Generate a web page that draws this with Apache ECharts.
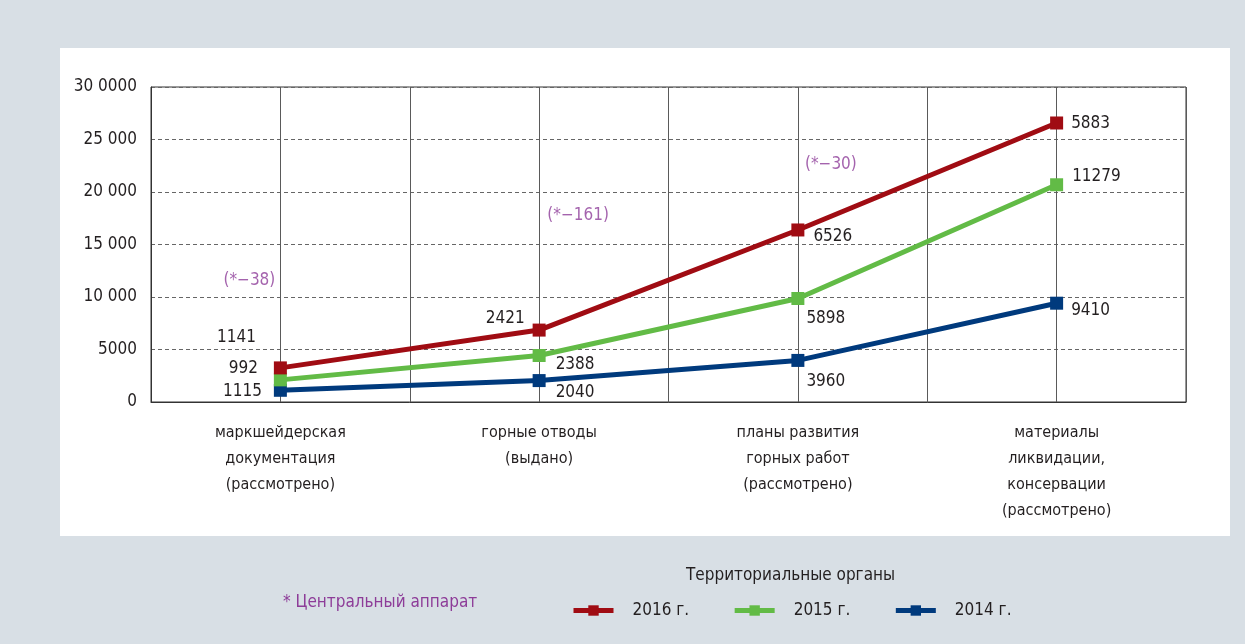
<!DOCTYPE html>
<html><head><meta charset="utf-8">
<script src="https://cdn.jsdelivr.net/npm/echarts@6/dist/echarts.min.js"></script>
<style>html,body{margin:0;padding:0;background:#d8dfe5}#c{width:1245px;height:644px}</style>
</head><body><div id="c"></div>
<script>
var categories = ['маркшейдерская\nдокументация\n(рассмотрено)', 'горные отводы\n(выдано)', 'планы развития\nгорных работ\n(рассмотрено)', 'материалы\nликвидации,\nконсервации\n(рассмотрено)'];
var years = ['2016 г.', '2015 г.', '2014 г.'];
var v2014 = [1115, 2040, 3960, 9410];
var v2015 = [992, 2388, 5898, 11279];
var v2016 = [1141, 2421, 6526, 5883];
var yTickLabels = ['0', '5000', '10 000', '15 000', '20 000', '25 000', '30 0000'];
var annotText = ['(*\u221238)', '(*\u2212161)', '(*\u221230)'];
var annotY = [11600, 17800, 22600];
var annotCat = [0, 1, 2];
var footnote = '* Центральный аппарат';
var legendTitle = 'Территориальные органы';

var FONT = "'Liberation Sans Narrow','DejaVu Sans Condensed','Roboto Condensed',sans-serif";
var TXT = '#231f20';
var colors = {'2016 г.': '#a00c13', '2015 г.': '#62bb46', '2014 г.': '#003a7d'};

// label layout (style only)
var lay2016 = [['left',18,[0,-30]],['left',8,[0,-12]],['right',9,[0,7]],['right',8,[0,1]]];
var lay2015 = [['left',16,[0,-11]],['right',10,[0,9]],['right',2,[0,20]],['right',9,[0,-8]]];
var lay2014 = [['left',12,[0,1]],['right',10,[0,12]],['right',2,[0,21]],['right',8,[0,7]]];
var annotOffX = [-31, 39, 33];

function mk(vals, lay) {
  return vals.map(function (v, i) {
    return {value: v, label: {show: true, position: lay[i][0], distance: lay[i][1], offset: lay[i][2],
      formatter: String(v), color: TXT, fontSize: 17, fontFamily: FONT}};
  });
}
function lineSeries(name, vals, lay) {
  return {name: name, type: 'line', stack: 'total', data: mk(vals, lay),
    symbol: 'rect', symbolSize: 13, lineStyle: {width: 5, color: colors[name]},
    itemStyle: {color: colors[name]}, z: 5, animation: false};
}

var chart = echarts.init(document.getElementById('c'));
chart.setOption({
  backgroundColor: '#d8dfe5',
  animation: false,
  textStyle: {fontFamily: FONT},
  graphic: [
    {type: 'rect', shape: {x: 60, y: 48, width: 1170, height: 488}, style: {fill: '#ffffff'}, z: -10},
    {type: 'text', left: 283, top: 594, style: {text: footnote, fill: '#8d3c98', font: '17px ' + FONT}},
    {type: 'text', left: 686, top: 567, style: {text: legendTitle, fill: TXT, font: '17px ' + FONT}}
  ],
  grid: {left: 151, right: 59, top: 87, bottom: 242, show: true, borderColor: '#333', borderWidth: 1, backgroundColor: 'transparent'},
  legend: {
    data: years, left: 566, top: 597, itemWidth: 40, itemHeight: 13, itemGap: 43,
    lineStyle: {width: 5},
    textStyle: {fontSize: 17, color: TXT, fontFamily: FONT, padding: [0, 0, 0, 14]}
  },
  xAxis: [
    {type: 'category', data: categories, boundaryGap: true,
      axisLine: {lineStyle: {color: '#333', width: 1}}, axisTick: {show: false},
      splitLine: {show: false},
      axisLabel: {color: TXT, fontSize: 16, lineHeight: 26, margin: 18, interval: 0, fontFamily: FONT}},
    {type: 'category', data: ['', '', '', '', '', '', '', ''], boundaryGap: true, position: 'bottom',
      axisLine: {show: false}, axisTick: {show: false}, axisLabel: {show: false},
      splitLine: {show: true, interval: 0, lineStyle: {color: '#5a5a5a', width: 1}}}
  ],
  yAxis: {type: 'value', min: 0, max: 30000, interval: 5000,
    axisLine: {show: true, lineStyle: {color: '#333'}}, axisTick: {show: false},
    axisLabel: {color: TXT, fontSize: 17, margin: 14, fontFamily: FONT,
      formatter: function (v) { return yTickLabels[Math.round(v / 5000)]; }},
    splitLine: {show: true, lineStyle: {color: '#666', type: [4, 3], width: 1}}},
  series: [
    lineSeries('2014 г.', v2014, lay2014),
    lineSeries('2015 г.', v2015, lay2015),
    lineSeries('2016 г.', v2016, lay2016),
    {type: 'scatter', symbolSize: 0, silent: true, z: 6,
      data: annotCat.map(function (c, i) {
        return {value: [c, annotY[i]], label: {show: true, position: 'inside', offset: [annotOffX[i], 0],
          formatter: annotText[i], color: '#8d3c98', fontSize: 17, fontFamily: FONT}};
      })}
  ]
});
</script></body></html>
